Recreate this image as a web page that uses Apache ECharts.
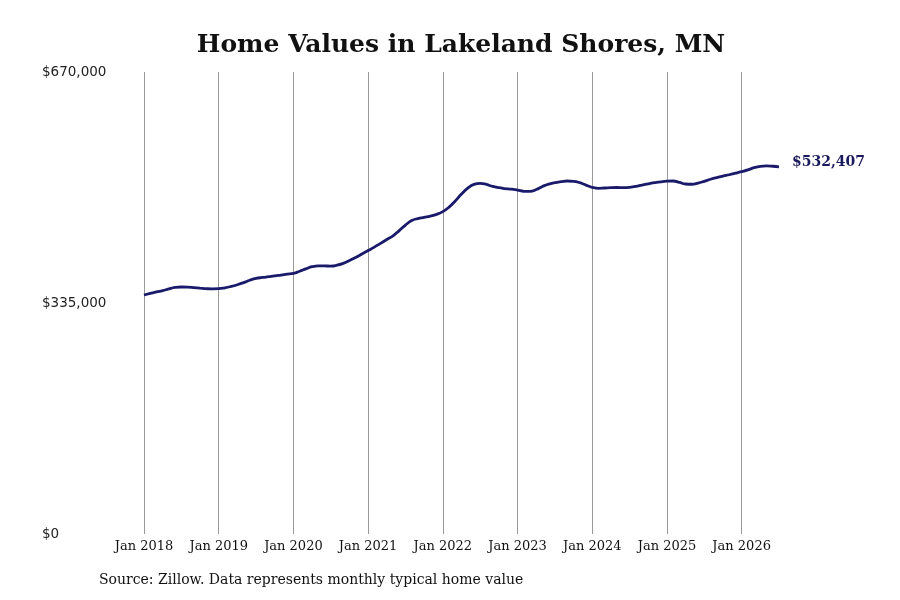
<!DOCTYPE html>
<html>
<head>
<meta charset="utf-8">
<script src="https://cdn.jsdelivr.net/npm/echarts@6/dist/echarts.min.js"></script>
<style>
  html, body { margin: 0; padding: 0; background: #ffffff; }
  #chart { width: 900px; height: 600px; }
</style>
</head>
<body>
<div id="chart"></div>
<script>
const years = [2018, 2019, 2020, 2021, 2022, 2023, 2024, 2025, 2026];
const monthNames = ['Jan','Feb','Mar','Apr','May','Jun','Jul','Aug','Sep','Oct','Nov','Dec'];
const values2018 = [346600, 348800, 351000, 353000, 355500, 357500, 358200, 358000, 357300, 356500, 355800, 355500];
const values2019 = [355700, 357000, 359000, 361500, 364500, 368000, 370700, 372000, 373100, 374200, 375500, 376800];
const values2020 = [378000, 381000, 384500, 387600, 388800, 388700, 388600, 389800, 392500, 396500, 401000, 406000];
const values2021 = [411000, 416000, 421500, 427000, 432500, 440000, 448000, 454500, 457500, 459200, 461000, 463500];
const values2022 = [467500, 474000, 483000, 493000, 501500, 507000, 508500, 507000, 504000, 502200, 501000, 500000];
const values2023 = [498800, 497000, 496800, 499500, 504000, 507500, 509500, 511000, 511900, 511500, 509500, 506000];
const values2024 = [502800, 501300, 501800, 502300, 502500, 502400, 502800, 504000, 506000, 507800, 509400, 510800];
const values2025 = [511700, 511900, 509800, 507600, 507200, 508800, 511500, 514500, 516800, 519000, 521000, 523200];
const values2026 = [525500, 528000, 531200, 533200, 533800, 533300, 532407];
const yTicks = [0, 335000, 670000];
const titleText = 'Home Values in Lakeland Shores, MN';
const sourceText = 'Source: Zillow. Data represents monthly typical home value';

const allValues = [].concat(values2018, values2019, values2020, values2021, values2022,
  values2023, values2024, values2025, values2026);
const categories = [];
for (let i = 0; i < allValues.length; i++) {
  const y = years[Math.floor(i / 12)];
  categories.push(monthNames[i % 12] + ' ' + y);
}
const isJan = (idx) => idx % 12 === 0;
const fmtMoney = (v) => '$' + v.toLocaleString('en-US');

const chart = echarts.init(document.getElementById('chart'));
chart.setOption({
  animation: false,
  backgroundColor: '#ffffff',
  title: {
    text: titleText,
    left: 456,
    textAlign: 'center',
    top: 28,
    textStyle: { fontFamily: 'DejaVu Serif', fontWeight: 'bold', fontSize: 25, color: '#111111' }
  },
  grid: { left: 144, right: 121, top: 72, bottom: 66, containLabel: false },
  xAxis: {
    type: 'category',
    data: categories,
    boundaryGap: false,
    axisLine: { show: false },
    axisTick: { show: false },
    axisLabel: {
      interval: (idx) => isJan(idx),
      margin: 6,
      fontFamily: 'DejaVu Serif',
      fontSize: 13,
      color: '#111111'
    },
    splitLine: {
      show: true,
      interval: (idx) => isJan(idx),
      lineStyle: { color: '#999999', width: 1 }
    }
  },
  yAxis: {
    type: 'value',
    min: yTicks[0],
    max: yTicks[yTicks.length - 1],
    interval: yTicks[1] - yTicks[0],
    axisLine: { show: false },
    axisTick: { show: false },
    splitLine: { show: false },
    axisLabel: {
      align: 'left',
      margin: 102,
      fontFamily: 'DejaVu Sans',
      fontSize: 13.5,
      color: '#222222',
      formatter: (v) => fmtMoney(v)
    }
  },
  series: [{
    type: 'line',
    data: allValues,
    smooth: true,
    showSymbol: false,
    lineStyle: { color: '#1a1a6b', width: 2.8 },
    endLabel: {
      show: true,
      distance: 13,
      formatter: (p) => fmtMoney(p.value),
      fontFamily: 'DejaVu Serif',
      fontWeight: 'bold',
      fontSize: 14,
      color: '#1a1a5e',
      offset: [0, -5]
    }
  }],
  graphic: [{
    type: 'text',
    left: 99,
    top: 573,
    style: { text: sourceText, font: '14px "DejaVu Serif"', fill: '#111111' }
  }]
});
</script>
</body>
</html>
